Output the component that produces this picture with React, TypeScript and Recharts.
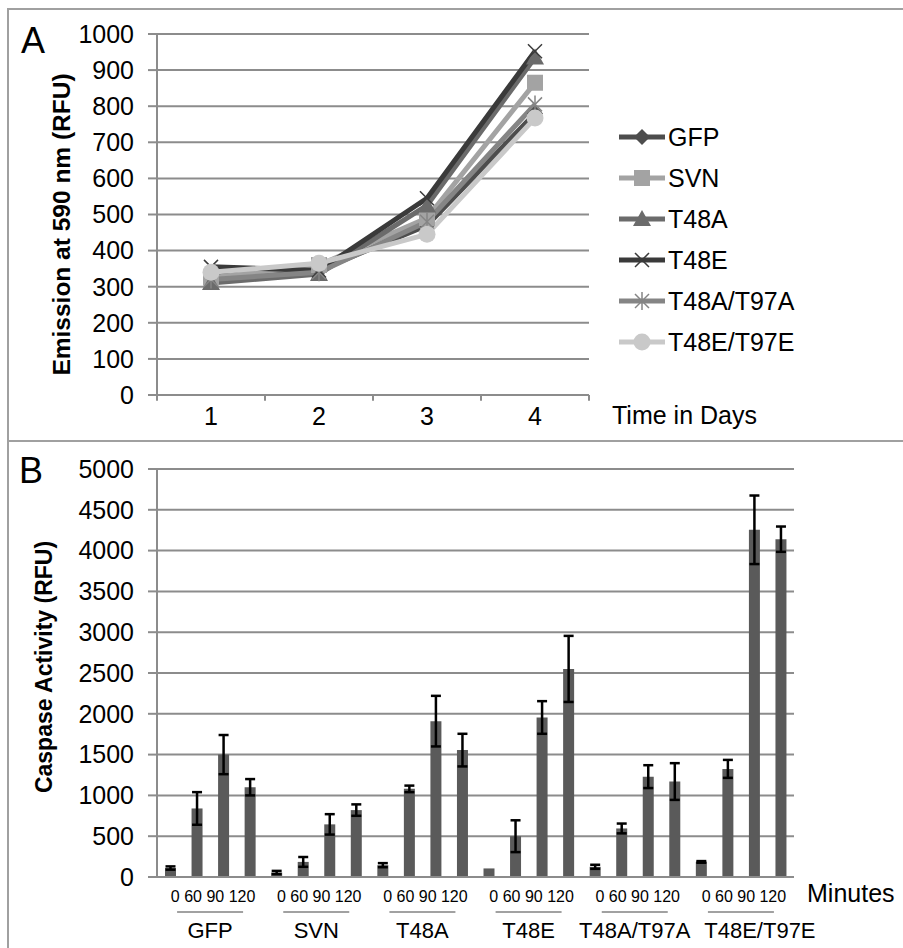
import React from 'react';
import {
  LineChart, Line, BarChart, Bar, XAxis, YAxis, CartesianGrid, ErrorBar,
  ReferenceLine, Legend, Label,
} from 'recharts';

const FONT = "'Liberation Sans', Arial, Helvetica, sans-serif";
const GRID = '#8c8c8c';

// ---------- Panel A data ----------
const days = [1, 2, 3, 4];
const gfp = [330, 345, 470, 780];
const svn = [325, 360, 490, 865];
const t48a = [310, 335, 525, 935];
const t48e = [355, 345, 545, 952];
const t48aT97a = [320, 340, 480, 805];
const t48eT97e = [340, 365, 445, 767];
const emissionTicks = [0, 100, 200, 300, 400, 500, 600, 700, 800, 900, 1000];
const dayBoundaries = [0.5, 1.5, 2.5, 3.5, 4.5];

type Shape = 'diamond' | 'square' | 'triangle' | 'x' | 'star' | 'circle';
const series: { key: string; name: string; values: number[]; color: string; shape: Shape }[] = [
  { key: 'gfp', name: 'GFP', values: gfp, color: '#4d4d4d', shape: 'diamond' },
  { key: 'svn', name: 'SVN', values: svn, color: '#a3a3a3', shape: 'square' },
  { key: 't48a', name: 'T48A', values: t48a, color: '#6b6b6b', shape: 'triangle' },
  { key: 't48e', name: 'T48E', values: t48e, color: '#3a3a3a', shape: 'x' },
  { key: 't48aT97a', name: 'T48A/T97A', values: t48aT97a, color: '#858585', shape: 'star' },
  { key: 't48eT97e', name: 'T48E/T97E', values: t48eT97e, color: '#c9c9c9', shape: 'circle' },
];

const lineData = days.map((d, i) => {
  const row: Record<string, number> = { day: d };
  series.forEach((s) => { row[s.key] = s.values[i]; });
  return row;
});

// ---------- Panel B data ----------
const groups = ['GFP', 'SVN', 'T48A', 'T48E', 'T48A/T97A', 'T48E/T97E'];
const minutes = ['0', '60', '90', '120'];
const caspaseMeans = [
  [110, 840, 1500, 1100],
  [55, 185, 645, 820],
  [145, 1080, 1910, 1555],
  [105, 500, 1955, 2550],
  [125, 595, 1230, 1170],
  [185, 1325, 4255, 4140],
];
const caspaseErrors = [
  [20, 200, 240, 100],
  [20, 60, 125, 70],
  [25, 40, 310, 200],
  [0, 195, 200, 405],
  [25, 60, 140, 225],
  [10, 110, 420, 155],
];
const caspaseTicks = [0, 500, 1000, 1500, 2000, 2500, 3000, 3500, 4000, 4500, 5000];

const barData = groups.flatMap((g, gi) =>
  minutes.map((m, mi) => ({
    key: `${g}-${m}`,
    group: g,
    minute: m,
    value: caspaseMeans[gi][mi],
    err: caspaseErrors[gi][mi],
  }))
);

// ---------- helpers ----------
function marker(shape: Shape, cx: number, cy: number, color: string, key?: string) {
  switch (shape) {
    case 'diamond':
      return <polygon key={key} points={`${cx},${cy - 8} ${cx + 8},${cy} ${cx},${cy + 8} ${cx - 8},${cy}`} fill={color} />;
    case 'square':
      return <rect key={key} x={cx - 8} y={cy - 8} width={16} height={16} fill={color} />;
    case 'triangle':
      return <polygon key={key} points={`${cx},${cy - 9} ${cx + 9},${cy + 7} ${cx - 9},${cy + 7}`} fill={color} />;
    case 'x':
      return (
        <g key={key} stroke={color} strokeWidth={1.5}>
          <line x1={cx - 7} y1={cy - 7} x2={cx + 7} y2={cy + 7} />
          <line x1={cx - 7} y1={cy + 7} x2={cx + 7} y2={cy - 7} />
        </g>
      );
    case 'star':
      return (
        <g key={key} stroke={color} strokeWidth={1.5}>
          <line x1={cx - 7} y1={cy - 7} x2={cx + 7} y2={cy + 7} />
          <line x1={cx - 7} y1={cy + 7} x2={cx + 7} y2={cy - 7} />
          <line x1={cx} y1={cy - 9} x2={cx} y2={cy + 9} />
        </g>
      );
    case 'circle':
    default:
      return <circle key={key} cx={cx} cy={cy} r={8.5} fill={color} />;
  }
}

const renderLegend = () => (
  <div style={{ fontFamily: FONT, fontSize: 25, color: '#000' }}>
    {series.map((s) => (
      <div key={s.key} style={{ display: 'flex', alignItems: 'center', height: 41 }}>
        <svg width={46} height={24} style={{ display: 'block' }}>
          <line x1={0} y1={12} x2={46} y2={12} stroke={s.color} strokeWidth={5} />
          {marker(s.shape, 23, 12, s.color)}
        </svg>
        <span style={{ marginLeft: 3, lineHeight: '24px' }}>{s.name}</span>
      </div>
    ))}
  </div>
);

const yTitleA = (props: any) => {
  const vb = props.viewBox;
  const cx = vb.x + 61;
  const cy = vb.y + vb.height / 2 + 10;
  return (
    <text x={cx} y={cy} transform={`rotate(-90, ${cx}, ${cy})`} textAnchor="middle"
      dominantBaseline="central" fontFamily={FONT} fontWeight="bold" fontSize={24.5} fill="#000">
      Emission at 590 nm (RFU)
    </text>
  );
};

const xTitleA = (props: any) => {
  const vb = props.viewBox;
  return (
    <text x={vb.x + vb.width + 23} y={vb.y + 29} fontFamily={FONT} fontSize={25} fill="#000">
      Time in Days
    </text>
  );
};

const yTitleB = (props: any) => {
  const vb = props.viewBox;
  const cx = vb.x + 44;
  const cy = vb.y + vb.height / 2 - 6;
  return (
    <text x={cx} y={cy} transform={`rotate(-90, ${cx}, ${cy})`} textAnchor="middle"
      dominantBaseline="central" fontFamily={FONT} fontWeight="bold" fontSize={23} fill="#000">
      Caspase Activity (RFU)
    </text>
  );
};

const minutesTitle = (props: any) => {
  const vb = props.viewBox;
  return (
    <text x={vb.x + vb.width + 13} y={vb.y + 24} fontFamily={FONT} fontSize={25} fill="#000">
      Minutes
    </text>
  );
};

const GroupTick = (props: any) => {
  const { x, y, payload, index } = props;
  const nameShift = index === groups.length - 1 ? 19 : 0;
  return (
    <g>
      <text x={x + 3} y={y + 24} textAnchor="middle" fontFamily={FONT} fontSize={16} fill="#000">
        {minutes.join(' ')}
      </text>
      <line x1={x - 33} x2={x + 33} y1={y + 34} y2={y + 34} stroke="#444" strokeWidth={1.2} />
      <text x={x + nameShift} y={y + 60} textAnchor="middle" fontFamily={FONT} fontSize={22} fill="#000">
        {payload.value}
      </text>
    </g>
  );
};

const tickStyle = { fontFamily: FONT, fontSize: 25, fill: '#000' };

export default function App() {
  return (
    <div style={{ position: 'absolute', left: 0, top: 0, width: 903, height: 948, background: '#fff', overflow: 'hidden' }}>
      {/* frame lines */}
      <div style={{ position: 'absolute', left: 7, top: 8, width: 896, height: 2, background: '#a0a0a0' }} />
      <div style={{ position: 'absolute', left: 7, top: 8, width: 2, height: 940, background: '#a0a0a0' }} />
      <div style={{ position: 'absolute', left: 7, top: 440, width: 896, height: 2, background: '#a0a0a0' }} />

      <span style={{ position: 'absolute', left: 21, top: 21, fontFamily: FONT, fontSize: 36, lineHeight: '40px' }}>A</span>
      <span style={{ position: 'absolute', left: 19, top: 451, fontFamily: FONT, fontSize: 36, lineHeight: '40px' }}>B</span>

      <div style={{ position: 'absolute', left: 0, top: 0 }}>
        <LineChart width={903} height={441} data={lineData} margin={{ top: 34, right: 314, bottom: 0, left: 0 }}>
          <CartesianGrid horizontal vertical={false} stroke={GRID} strokeWidth={2} />
          <XAxis dataKey="day" type="number" domain={[0.5, 4.5]} ticks={days} height={46}
            tickLine={false} tickSize={6} tickMargin={6} axisLine={{ stroke: GRID, strokeWidth: 2 }}
            tick={tickStyle} allowDecimals>
            <Label content={xTitleA} />
          </XAxis>
          <YAxis type="number" domain={[0, 1000]} ticks={emissionTicks} width={157}
            tickSize={9} tickMargin={14} tickLine={{ stroke: GRID, strokeWidth: 2 }}
            axisLine={{ stroke: GRID, strokeWidth: 2 }} tick={tickStyle} interval={0}>
            <Label content={yTitleA} />
          </YAxis>
          {dayBoundaries.map((b) => (
            <ReferenceLine key={b} segment={[{ x: b, y: 0 }, { x: b, y: -16 }]} ifOverflow="visible"
              stroke={GRID} strokeWidth={2} />
          ))}
          {series.map((s) => (
            <Line key={s.key} type="linear" dataKey={s.key} name={s.name} stroke={s.color} strokeWidth={5}
              isAnimationActive={false}
              dot={(p: any) => marker(s.shape, p.cx, p.cy, s.color, `${s.key}-${p.index}`)}
              activeDot={false} />
          ))}
          <Legend layout="horizontal" align="center" verticalAlign="middle" content={renderLegend}
            wrapperStyle={{ position: 'absolute', left: 619, top: 116, width: 280, height: 250 }} />
        </LineChart>
      </div>

      <div style={{ position: 'absolute', left: 0, top: 441 }}>
        <BarChart width={903} height={507} data={barData} margin={{ top: 28, right: 109, bottom: 0, left: 0 }}>
          <CartesianGrid horizontal vertical={false} stroke={GRID} strokeWidth={2} />
          <XAxis dataKey="key" height={1} tick={false} tickLine={false}
            axisLine={{ stroke: GRID, strokeWidth: 2 }} />
          <XAxis xAxisId="g" dataKey="group" allowDuplicatedCategory={false} height={70}
            axisLine={false} tickLine={false} tickSize={0} tickMargin={0} tick={<GroupTick />} interval={0}>
            <Label content={minutesTitle} />
          </XAxis>
          <YAxis type="number" domain={[0, 5000]} ticks={caspaseTicks} width={157}
            tickSize={9} tickMargin={14} tickLine={{ stroke: GRID, strokeWidth: 2 }}
            axisLine={{ stroke: GRID, strokeWidth: 2 }} tick={tickStyle} interval={0}>
            <Label content={yTitleB} />
          </YAxis>
          <Bar dataKey="value" fill="#5a5a5a" barSize={11} isAnimationActive={false}>
            <ErrorBar dataKey="err" width={5} strokeWidth={2.5} stroke="#000" direction="y" />
          </Bar>
        </BarChart>
      </div>
    </div>
  );
}
